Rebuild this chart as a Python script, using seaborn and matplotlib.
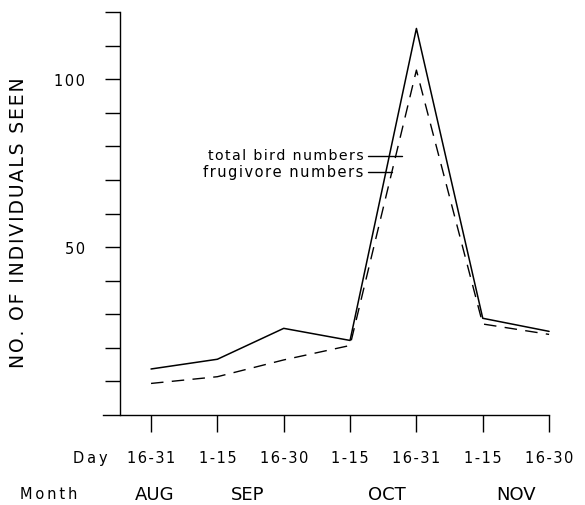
import pandas as pd
import matplotlib.pyplot as plt
import seaborn as sns

# Values
days = ["16-31", "1-15", "16-30", "1-15", "16-31", "1-15", "16-30"]
months = ["AUG", "SEP", "OCT", "NOV"]
month_pos = [0.05, 1.45, 3.55, 5.5]
total_birds = [13.7, 16.6, 25.8, 22.2, 115.1, 28.8, 24.9]
frugivores = [9.4, 11.4, 16.4, 20.7, 102.7, 27.1, 24.0]

sns.set_style("ticks")
plt.rcParams["font.family"] = ["DejaVu Sans"]
plt.rcParams["text.color"] = "black"
plt.rcParams["xtick.color"] = "black"
plt.rcParams["ytick.color"] = "black"


def spaced(s, gap="\u200a"):
    # imitate the wide letter spacing of the stencil lettering
    return gap.join(s)


df = pd.DataFrame({"period": range(len(days)), "total": total_birds, "frug": frugivores})

fig = plt.figure(figsize=(5.85, 5.06), dpi=100)
ax = fig.add_axes([103 / 585, 90 / 506, 466 / 585, 403 / 506])

sns.lineplot(data=df, x="period", y="total", ax=ax, color="black", lw=1.1)
sns.lineplot(data=df, x="period", y="frug", ax=ax, color="black", lw=1.0,
             dashes=False, linestyle=(0, (9, 6)))

ax.set_xlim(-0.724, 6.3)
ax.set_ylim(0, 120)

# spines
sns.despine(ax=ax)
ax.spines["left"].set_position(("data", -0.467))
ax.spines["left"].set_bounds(0, 120)
ax.spines["bottom"].set_bounds(-0.724, 6)
for s in ("left", "bottom"):
    ax.spines[s].set_linewidth(1.0)
    ax.spines[s].set_color("black")

# y ticks: every 10, labels at 50 and 100 only
yt = list(range(10, 130, 10))
ax.set_yticks(yt)
ax.set_yticklabels([spaced(str(v)) if v in (50, 100) else "" for v in yt], fontsize=10.5)
ax.tick_params(axis="y", length=11, width=1.0, pad=14, direction="out")

ax.set_xticks(range(len(days)))
ax.set_xticklabels([spaced(d) for d in days], fontsize=10.5)
ax.tick_params(axis="x", length=12, width=1.0, pad=13.5, direction="out")

ax.set_xlabel("")
ax.set_ylabel("")
fig.text(19 / 585, 1 - 223 / 506, spaced("NO. OF INDIVIDUALS SEEN"),
         rotation=90, ha="center", va="center", fontsize=13.5)

# row titles and month labels
trans = ax.get_xaxis_transform()
ax.text(-0.92, -0.106, spaced("Day", "\u2009"), transform=trans, ha="center", va="center", fontsize=10.5)
ax.text(-1.55, -0.195, spaced("Month", "\u2009"), transform=trans, ha="center", va="center", fontsize=10.5)
for m, p in zip(months, month_pos):
    ax.text(p, -0.195, m, transform=trans, ha="center", va="center", fontsize=13)

# inline labels with leader lines
ax.text(3.2, 77.4, spaced("total bird numbers"), ha="right", va="center", fontsize=10.2)
ax.plot([3.27, 3.78], [77.1, 77.1], color="black", lw=1.0)
ax.text(3.2, 72.6, spaced("frugivore numbers"), ha="right", va="center", fontsize=10.5)
ax.plot([3.27, 3.63], [72.3, 72.3], color="black", lw=1.0)

fig.savefig("out.png", dpi=100)
